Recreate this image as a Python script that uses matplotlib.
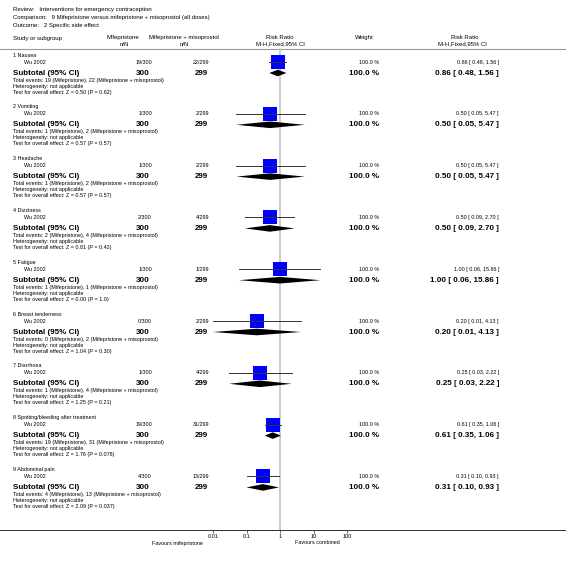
import numpy as np
import matplotlib.pyplot as plt
from matplotlib.patches import Polygon

plt.rcParams['font.family'] = ['Liberation Sans', 'DejaVu Sans']

# data
groups = ["1 Nausea", "2 Vomiting", "3 Headache", "4 Dizziness", "5 Fatigue",
          "6 Breast tenderness", "7 Diarrhoea", "8 Spotting/bleeding after treatment",
          "9 Abdominal pain"]
study = "Wu 2002"
mife_events = [19, 1, 1, 2, 1, 0, 1, 19, 4]
mife_total = [300, 300, 300, 300, 300, 300, 300, 300, 300]
comb_events = [22, 2, 2, 4, 1, 2, 4, 31, 13]
comb_total = [299, 299, 299, 299, 299, 299, 299, 299, 299]
rr = [0.86, 0.50, 0.50, 0.50, 1.00, 0.20, 0.25, 0.61, 0.31]
rr_lo = [0.48, 0.05, 0.05, 0.09, 0.06, 0.01, 0.03, 0.35, 0.10]
rr_hi = [1.56, 5.47, 5.47, 2.70, 15.86, 4.13, 2.22, 1.06, 0.93]
weight = [100.0, 100.0, 100.0, 100.0, 100.0, 100.0, 100.0, 100.0, 100.0]
z_stat = ["0.50", "0.57", "0.57", "0.81", "0.00", "1.04", "1.25", "1.76", "2.09"]
p_val = ["0.62", "0.57", "0.57", "0.42", "1.0", "0.30", "0.21", "0.078", "0.037"]
ticks = [0.01, 0.1, 1, 10, 100]
tick_labels = ["0.01", "0.1", "1", "10", "100"]

W, H = 566, 561
fig = plt.figure(figsize=(W / 100, H / 100), dpi=100)
ax = fig.add_axes([0, 0, 1, 1])
ax.set_xlim(0, W)
ax.set_ylim(H, 0)
ax.axis('off')

AXIS_Y = 530
fax = fig.add_axes([213 / W, (H - AXIS_Y) / H, (347 - 213) / W, AXIS_Y / H])
fax.set_xscale('log')
fax.set_xlim(0.01, 100)
fax.set_ylim(AXIS_Y, 0)
fax.patch.set_alpha(0)
for s in ['top', 'left', 'right']:
    fax.spines[s].set_visible(False)
fax.spines['bottom'].set_color('#333333')
fax.spines['bottom'].set_linewidth(0.7)
fax.set_yticks([])
fax.set_xticks(ticks)
fax.set_xticklabels(tick_labels)
fax.minorticks_off()
fax.tick_params(axis='x', direction='out', length=2.5, width=0.5, labelsize=4, pad=0.5,
                color='#333333')

small = 3.9
head = 4.3
bold = 5.8

# title block
ax.text(13, 9, "Review:   Interventions for emergency contraception", fontsize=head, va='center')
ax.text(13, 17, "Comparison:   9 Mifepristone versus mifepristone + misoprostol (all doses)",
        fontsize=head, va='center')
ax.text(13, 25, "Outcome:   2 Specific side effect", fontsize=head, va='center')

# column headers
ax.text(13, 38, "Study or subgroup", fontsize=head, va='center')
ax.text(123, 37, "Mifepristone", fontsize=head, va='center', ha='center')
ax.text(124, 44, "n/N", fontsize=head, va='center', ha='center')
ax.text(184, 37, "Mifepristone + misoprostol", fontsize=head, va='center', ha='center')
ax.text(184, 44, "n/N", fontsize=head, va='center', ha='center')
ax.text(280, 37, "Risk Ratio", fontsize=head, va='center', ha='center')
ax.text(280, 44, "M-H,Fixed,95% CI", fontsize=head, va='center', ha='center')
ax.text(364, 37, "Weight", fontsize=head, va='center', ha='center')
ax.text(465, 37, "Risk Ratio", fontsize=head, va='center', ha='center')
ax.text(462, 44, "M-H,Fixed,95% CI", fontsize=head, va='center', ha='center')
ax.plot([0, W], [49, 49], color='#999999', lw=0.8)

# reference line at RR = 1
fax.plot([1, 1], [49, AXIS_Y], color='#cccccc', lw=1.4, zorder=1)

y0, step = 55, 51.8
for i, g in enumerate(groups):
    y = y0 + i * step
    ys, ysub = y + 7, y + 18
    ax.text(13, y, g, fontsize=small, va='center')
    ax.text(24, ys, study, fontsize=small, va='center')
    ax.text(152, ys, f"{mife_events[i]}/{mife_total[i]}", fontsize=small, va='center', ha='right')
    ax.text(209, ys, f"{comb_events[i]}/{comb_total[i]}", fontsize=small, va='center', ha='right')
    ax.text(379, ys, f"{weight[i]:.1f} %", fontsize=small, va='center', ha='right')
    ax.text(499, ys, f"{rr[i]:.2f} [ {rr_lo[i]:.2f}, {rr_hi[i]:.2f} ]", fontsize=small,
            va='center', ha='right')

    ax.text(13, ysub, "Subtotal (95% CI)", fontsize=bold, fontweight='bold', va='center')
    ax.text(150, ysub, f"{mife_total[i]}", fontsize=bold, fontweight='bold', va='center', ha='right')
    ax.text(208, ysub, f"{comb_total[i]}", fontsize=bold, fontweight='bold', va='center', ha='right')
    ax.text(379, ysub, f"{weight[i]:.1f} %", fontsize=bold, fontweight='bold', va='center', ha='right')
    ax.text(499, ysub, f"{rr[i]:.2f} [ {rr_lo[i]:.2f}, {rr_hi[i]:.2f} ]", fontsize=bold,
            fontweight='bold', va='center', ha='right')

    ax.text(13, y + 25, f"Total events: {mife_events[i]} (Mifepristone), {comb_events[i]} "
            f"(Mifepristone + misoprostol)", fontsize=small, va='center')
    ax.text(13, y + 31, "Heterogeneity: not applicable", fontsize=small, va='center')
    ax.text(13, y + 37, f"Test for overall effect: Z = {z_stat[i]} (P = {p_val[i]})",
            fontsize=small, va='center')

    # study estimate
    fax.plot(rr[i], ys, 's', ms=9.8, color='#0000ff', mec='#0000ff', mew=0, zorder=3)
    fax.plot([rr_lo[i], rr_hi[i]], [ys, ys], color='#333333', lw=0.7, zorder=4)
    # pooled diamond
    fax.add_patch(Polygon([(rr_lo[i], ysub), (rr[i], ysub - 3.3), (rr_hi[i], ysub),
                           (rr[i], ysub + 3.3)], closed=True, color='black', lw=0, zorder=3))

ax.plot([0, W], [AXIS_Y, AXIS_Y], color='#333333', lw=0.7)
ax.text(203, 543, "Favours mifepristone", fontsize=small, va='center', ha='right')
ax.text(295, 543, "Favours combined", fontsize=small, va='center', ha='left')

fig.savefig('out.png', dpi=100)
